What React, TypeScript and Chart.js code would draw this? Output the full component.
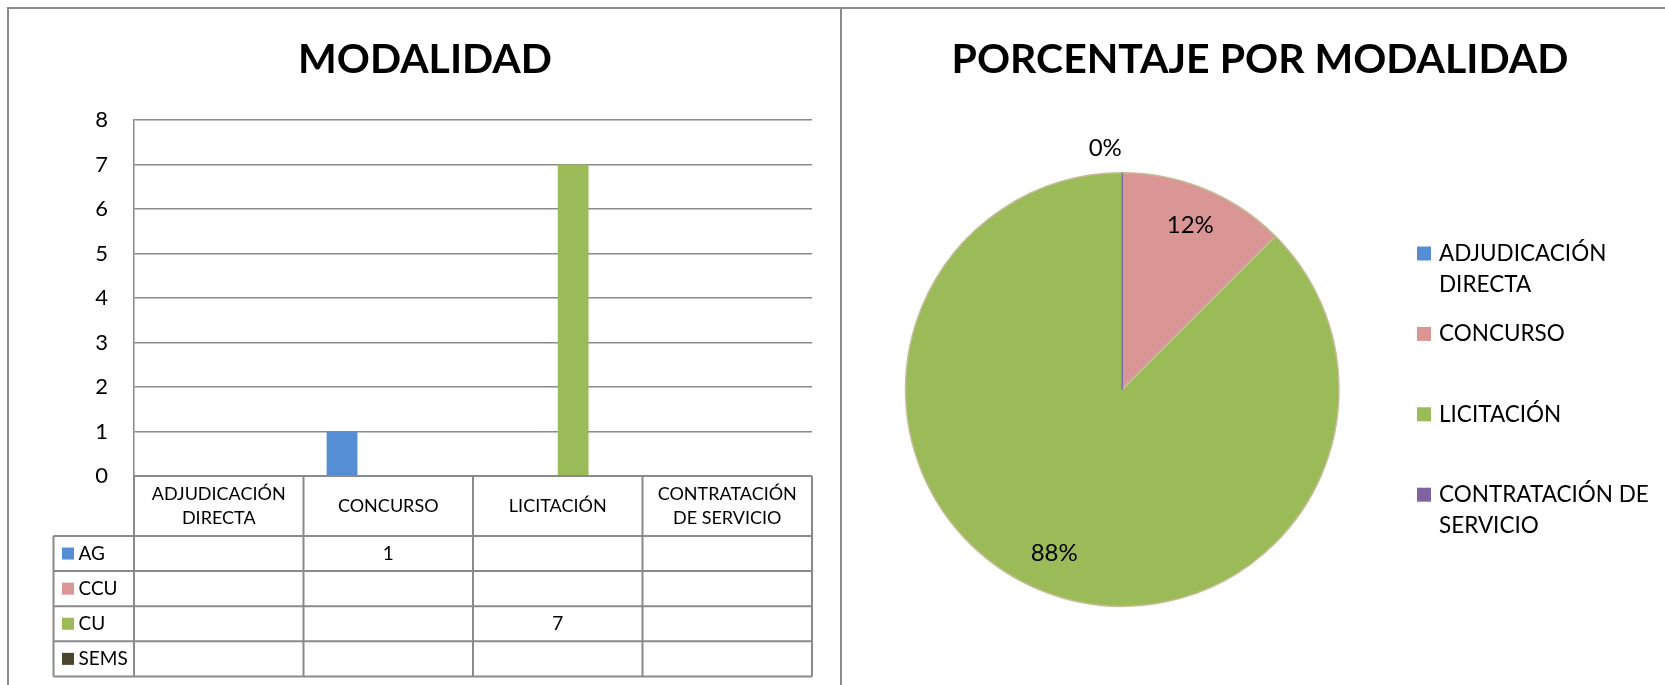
import React, { useEffect, useRef } from "react";
import { Chart, registerables } from "chart.js";

Chart.register(...registerables);

// ---------- data ----------
const categories = ["ADJUDICACIÓN DIRECTA", "CONCURSO", "LICITACIÓN", "CONTRATACIÓN DE SERVICIO"];
const seriesNames = ["AG", "CCU", "CU", "SEMS"];
const agValues: (number | null)[] = [null, 1, null, null];
const ccuValues: (number | null)[] = [null, null, null, null];
const cuValues: (number | null)[] = [null, null, 7, null];
const semsValues: (number | null)[] = [null, null, null, null];
const seriesColors = ["#558ED5", "#D99694", "#9BBB59", "#4A452A"];
const yAxisMin = 0;
const yAxisMax = 8;
const yAxisStep = 1;
const pieValues = [0, 1, 7, 0];
const pieColors = ["#558ED5", "#D99694", "#9BBB59", "#8064A2"];
const barTitle = "MODALIDAD";
const pieTitle = "PORCENTAJE POR MODALIDAD";

// ---------- styles ----------
const FONT = "Lato, 'Open Sans', sans-serif";
const LINE = "#8A8A8A";
const PIE_BORDER = "#C4BD97";

const HEADER_H = 60;
const ROW_H = 35.1;
const LABEL_COL_W = 80.5;

function wrap(ctx: CanvasRenderingContext2D, text: string, maxW: number): string[] {
  const words = text.split(" ");
  const lines: string[] = [];
  let cur = "";
  for (const w of words) {
    const t = cur ? cur + " " + w : w;
    if (cur && ctx.measureText(t).width > maxW) {
      lines.push(cur);
      cur = w;
    } else cur = t;
  }
  if (cur) lines.push(cur);
  return lines;
}

function roundHalfEven(v: number): number {
  const f = Math.floor(v);
  const d = v - f;
  if (Math.abs(d - 0.5) < 1e-9) return f % 2 === 0 ? f : f + 1;
  return Math.round(v);
}

const tablePlugin = {
  id: "dataTable",
  afterDraw(chart: any) {
    const { ctx, chartArea } = chart;
    const xs = chart.scales.x;
    const labels = chart.data.labels as string[];
    const n = labels.length;
    const half = (xs.getPixelForValue(1) - xs.getPixelForValue(0)) / 2;
    const left = chartArea.left;
    const right = chartArea.right;
    const top = chartArea.bottom;
    const hb = top + HEADER_H;
    const datasets = chart.data.datasets;
    const bottom = hb + ROW_H * datasets.length;
    const labelLeft = left - LABEL_COL_W;
    ctx.save();
    ctx.strokeStyle = LINE;
    ctx.lineWidth = 2;
    ctx.beginPath();
    ctx.moveTo(left, top);
    ctx.lineTo(right, top);
    for (let r = 0; r <= datasets.length; r++) {
      const y = hb + ROW_H * r;
      ctx.moveTo(labelLeft, y);
      ctx.lineTo(right, y);
    }
    for (let i = 0; i < n; i++) {
      const xl = xs.getPixelForValue(i) - half;
      ctx.moveTo(xl, top);
      ctx.lineTo(xl, bottom);
    }
    ctx.moveTo(right, top);
    ctx.lineTo(right, bottom);
    ctx.moveTo(labelLeft, hb);
    ctx.lineTo(labelLeft, bottom);
    ctx.stroke();

    ctx.fillStyle = "#000";
    ctx.font = `18px ${FONT}`;
    ctx.textBaseline = "middle";
    ctx.textAlign = "center";
    for (let i = 0; i < n; i++) {
      const cx = xs.getPixelForValue(i);
      const lines = wrap(ctx, labels[i], 150);
      const cy = top + HEADER_H / 2;
      lines.forEach((ln, k) => ctx.fillText(ln, cx, cy + (k - (lines.length - 1) / 2) * 24));
    }
    ctx.font = `19px ${FONT}`;
    datasets.forEach((ds: any, r: number) => {
      const cy = hb + ROW_H * (r + 0.5);
      ctx.fillStyle = ds.backgroundColor;
      ctx.fillRect(labelLeft + 8.5, cy - 6, 12, 12);
      ctx.fillStyle = "#000";
      ctx.textAlign = "left";
      ctx.fillText(ds.label, labelLeft + 25, cy);
      ctx.textAlign = "center";
      ds.data.forEach((v: number | null, i: number) => {
        if (v !== null && v !== undefined) ctx.fillText(String(v), xs.getPixelForValue(i), cy);
      });
    });
    ctx.restore();
  },
};

const LEG_X = 573;
const LEG_Y0 = 243.5;
const LEG_STEP = 80.4;

const piePlugin = {
  id: "pieExtras",
  afterDraw(chart: any) {
    const { ctx } = chart;
    const meta = chart.getDatasetMeta(0);
    const ds = chart.data.datasets[0];
    const data = ds.data as number[];
    const labels = chart.data.labels as string[];
    const total = data.reduce((a, b) => a + b, 0);
    ctx.save();
    // title
    ctx.fillStyle = "#000";
    ctx.font = `bold 41px ${FONT}`;
    ctx.textAlign = "center";
    ctx.textBaseline = "middle";
    ctx.fillText(pieTitle, chart.width / 2, 50);

    // zero-value slices as thin lines
    meta.data.forEach((arc: any, i: number) => {
      if (data[i] === 0) {
        ctx.strokeStyle = ds.backgroundColor[i];
        ctx.lineWidth = 1.2;
        ctx.beginPath();
        ctx.moveTo(arc.x, arc.y);
        ctx.lineTo(arc.x + arc.outerRadius * Math.cos(arc.startAngle), arc.y + arc.outerRadius * Math.sin(arc.startAngle));
        ctx.stroke();
      }
    });

    // data labels
    ctx.font = `24px ${FONT}`;
    ctx.fillStyle = "#000";
    const seen = new Set<string>();
    meta.data.forEach((arc: any, i: number) => {
      const pct = roundHalfEven((data[i] / total) * 100) + "%";
      let lx: number, ly: number;
      if (data[i] === 0) {
        const a = arc.startAngle;
        lx = arc.x + (arc.outerRadius + 24) * Math.cos(a) - 17;
        ly = arc.y + (arc.outerRadius + 24) * Math.sin(a);
      } else {
        const a = (arc.startAngle + arc.endAngle) / 2;
        lx = arc.x + arc.outerRadius * 0.82 * Math.cos(a);
        ly = arc.y + arc.outerRadius * 0.82 * Math.sin(a);
      }
      const key = Math.round(lx) + "," + Math.round(ly);
      if (seen.has(key)) return;
      seen.add(key);
      ctx.fillText(pct, lx, ly);
    });

    // legend
    ctx.font = `22.5px ${FONT}`;
    ctx.textAlign = "left";
    labels.forEach((lab, i) => {
      const y0 = LEG_Y0 + i * LEG_STEP;
      ctx.fillStyle = ds.backgroundColor[i];
      ctx.fillRect(LEG_X, y0 - 7, 14, 14);
      ctx.fillStyle = "#000";
      const lines = wrap(ctx, lab, 235);
      lines.forEach((ln, k) => ctx.fillText(ln, LEG_X + 22, y0 + k * 31));
    });
    ctx.restore();
  },
};

export default function App() {
  const barRef = useRef<HTMLCanvasElement>(null);
  const pieRef = useRef<HTMLCanvasElement>(null);

  useEffect(() => {
    const seriesData = [agValues, ccuValues, cuValues, semsValues];
    const bar = new Chart(barRef.current as HTMLCanvasElement, {
      type: "bar",
      data: {
        labels: categories,
        datasets: seriesNames.map((name, i) => ({
          label: name,
          data: seriesData[i],
          backgroundColor: seriesColors[i],
          borderWidth: 0,
          categoryPercentage: 0.727,
          barPercentage: 1,
        })),
      },
      options: {
        responsive: false,
        animation: false,
        events: [],
        layout: { padding: { left: 28, right: 28, top: 0, bottom: 209 } },
        plugins: {
          legend: { display: false },
          tooltip: { enabled: false },
          title: {
            display: true,
            text: barTitle,
            color: "#000",
            font: { family: FONT, size: 41, weight: "bold" },
            padding: { top: 25.4, bottom: 35.4 },
          },
        },
        scales: {
          x: { type: "category", display: false },
          y: {
            min: yAxisMin,
            max: yAxisMax,
            afterFit: (scale: any) => {
              scale.width = 96;
            },
            ticks: {
              stepSize: yAxisStep,
              color: "#000",
              font: { family: FONT, size: 22 },
              padding: 26,
            },
            grid: { color: LINE, lineWidth: 1.5, drawTicks: false },
            border: { color: LINE, width: 1.5 },
          },
        },
      },
      plugins: [tablePlugin],
    } as any);

    const pie = new Chart(pieRef.current as HTMLCanvasElement, {
      type: "pie",
      data: {
        labels: categories,
        datasets: [
          {
            data: pieValues,
            backgroundColor: pieColors,
            borderColor: PIE_BORDER,
            borderWidth: 1.5,
          },
        ],
      },
      options: {
        responsive: false,
        animation: false,
        events: [],
        layout: { padding: { left: 60.5, right: 336, top: 162, bottom: 78 } },
        plugins: {
          legend: { display: false },
          tooltip: { enabled: false },
          title: { display: false },
        },
      },
      plugins: [piePlugin],
    } as any);

    return () => {
      bar.destroy();
      pie.destroy();
    };
  }, []);

  return (
    <div
      style={{
        position: "fixed",
        left: 0,
        top: 0,
        width: 1665,
        height: 685,
        overflow: "hidden",
        background: "#fff",
      }}
    >
      <div
        style={{
          position: "absolute",
          left: 7,
          top: 7,
          width: 1700,
          height: 700,
          borderTop: `2px solid ${LINE}`,
          borderLeft: `2px solid ${LINE}`,
          boxSizing: "border-box",
        }}
      />
      <div style={{ position: "absolute", left: 840, top: 7, width: 2, height: 700, background: LINE }} />
      <canvas
        ref={barRef}
        width={830}
        height={675}
        style={{ position: "absolute", left: 10, top: 10, width: 830, height: 675 }}
      />
      <canvas
        ref={pieRef}
        width={832}
        height={675}
        style={{ position: "absolute", left: 844, top: 10, width: 832, height: 675 }}
      />
    </div>
  );
}
